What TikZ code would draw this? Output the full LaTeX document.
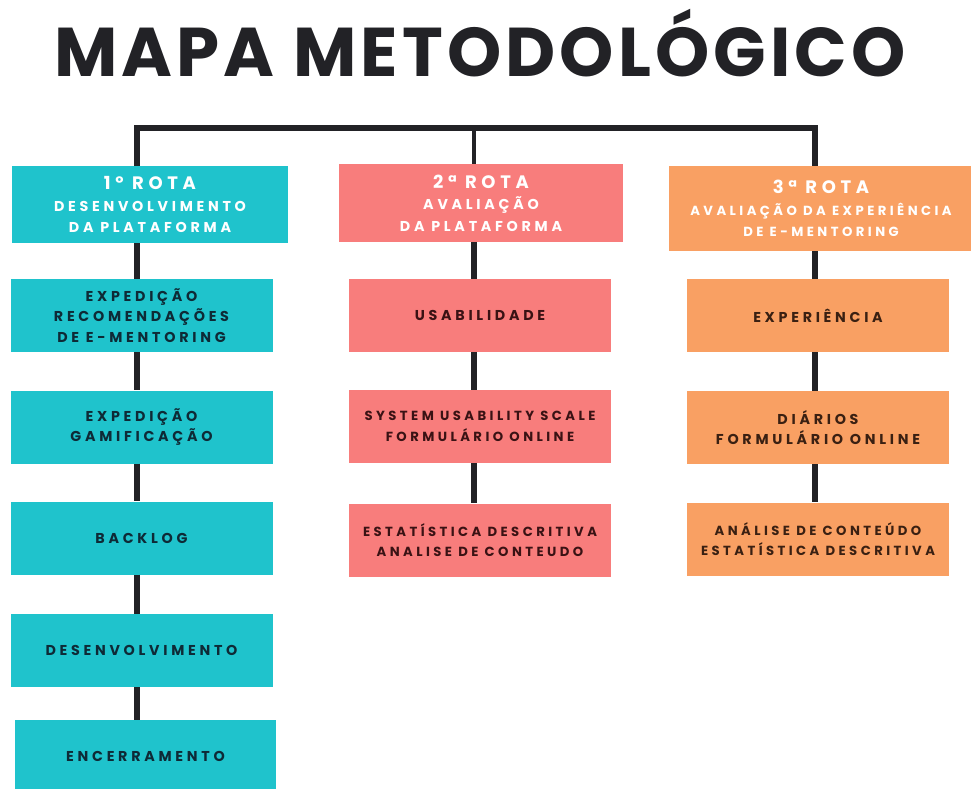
\documentclass[tikz,border=0pt]{standalone}
\usepackage{fontspec}
\setmainfont{Poppins}
\newfontfamily\titlefont{Poppins}[LetterSpace=6]
\newfontfamily\spaced{Poppins}[LetterSpace=26]
\definecolor{teal}{HTML}{1FC3CC}
\definecolor{salmon}{HTML}{F87D7C}
\definecolor{peach}{HTML}{F9A063}
\definecolor{linec}{HTML}{222226}
\definecolor{navy}{HTML}{0E2A36}
\definecolor{maroon}{HTML}{3A1214}
\definecolor{brownd}{HTML}{3A2012}
\begin{document}
\begin{tikzpicture}[x=1pt,y=-1pt,
  box/.style={rectangle,inner sep=0pt,minimum width=262pt,minimum height=73pt,align=center,
    font=\spaced\bfseries\fontsize{14.3}{20.5}\selectfont},
  narrow/.style={font=\spaced\bfseries\fontsize{13.2}{20.5}\selectfont},
  tbox/.style={box,fill=teal,text=navy},
  sbox/.style={box,fill=salmon,text=maroon},
  pbox/.style={box,fill=peach,text=brownd},
  head/.style={rectangle,inner sep=0pt,align=center,text=white,
    font=\spaced\bfseries\fontsize{14.3}{21.5}\selectfont},
  conn/.style={draw=linec,line width=5.5pt}]
\useasboundingbox (0,0) rectangle (971,789);
\node[font=\titlefont\bfseries\fontsize{69}{69}\selectfont,text=linec,inner sep=0pt] (title) at (480,43) {MAPA METODOLÓGICO};
\coordinate (t1) at (137,128);
\coordinate (t2) at (474,128);
\coordinate (t3) at (815,128);
% column 1
\node[head,fill=teal,minimum width=276pt,minimum height=77pt] (h1) at (150,204.5) {{\fontsize{18}{21.5}\selectfont 1º ROTA}\\DESENVOLVIMENTO\\DA PLATAFORMA};
\node[tbox] (a1) at (141.5,315.5) {EXPEDIÇÃO\\RECOMENDAÇÕES\\DE E-MENTORING};
\node[tbox] (a2) at (141.5,427) {EXPEDIÇÃO\\GAMIFICAÇÃO};
\node[tbox] (a3) at (141.5,538) {BACKLOG};
\node[tbox] (a4) at (141.5,650.5) {DESENVOLVIMENTO};
\node[tbox,minimum width=261pt,minimum height=72pt] (a5) at (145.5,756) {ENCERRAMENTO};
% column 2
\node[head,fill=salmon,minimum width=284pt,minimum height=78pt] (h2) at (481,203) {{\fontsize{18}{21.5}\selectfont 2ª ROTA}\\AVALIAÇÃO\\DA PLATAFORMA};
\node[sbox] (b1) at (480,315.5) {USABILIDADE};
\node[sbox,narrow] (b2) at (480,426.5) {SYSTEM USABILITY SCALE\\FORMULÁRIO ONLINE};
\node[sbox,narrow] (b3) at (480,540) {ESTATÍSTICA DESCRITIVA\\ANALISE DE CONTEUDO};
% column 3
\node[head,fill=peach,minimum width=304pt,minimum height=85pt] (h3) at (821,208.5) {{\fontsize{18}{21.5}\selectfont 3ª ROTA}\\{\fontsize{13.2}{19}\selectfont AVALIAÇÃO DA EXPERIÊNCIA}\\{\fontsize{13.2}{19}\selectfont DE E-MENTORING}};
\node[pbox] (c1) at (818,315.5) {EXPERIÊNCIA};
\node[pbox] (c2) at (818,427.5) {DIÁRIOS\\FORMULÁRIO ONLINE};
\node[pbox,narrow] (c3) at (818,539) {ANÁLISE DE CONTEÚDO\\ESTATÍSTICA DESCRITIVA};
% connectors
\draw[conn,line join=miter] (h1.north -| t1) -- (t1) -- (t3) -- (h3.north -| t3);
\draw[conn,line width=4pt] (t2) -- (h2.north -| t2);
\foreach \u/\v in {h1/a1,a1/a2,a2/a3,a3/a4,a4/a5}{\draw[conn] (\u.south -| t1) -- (\v.north -| t1);}
\foreach \u/\v in {h2/b1,b1/b2,b2/b3}{\draw[conn] (\u.south -| t2) -- (\v.north -| t2);}
\foreach \u/\v in {h3/c1,c1/c2,c2/c3}{\draw[conn] (\u.south -| t3) -- (\v.north -| t3);}
\end{tikzpicture}
\end{document}
